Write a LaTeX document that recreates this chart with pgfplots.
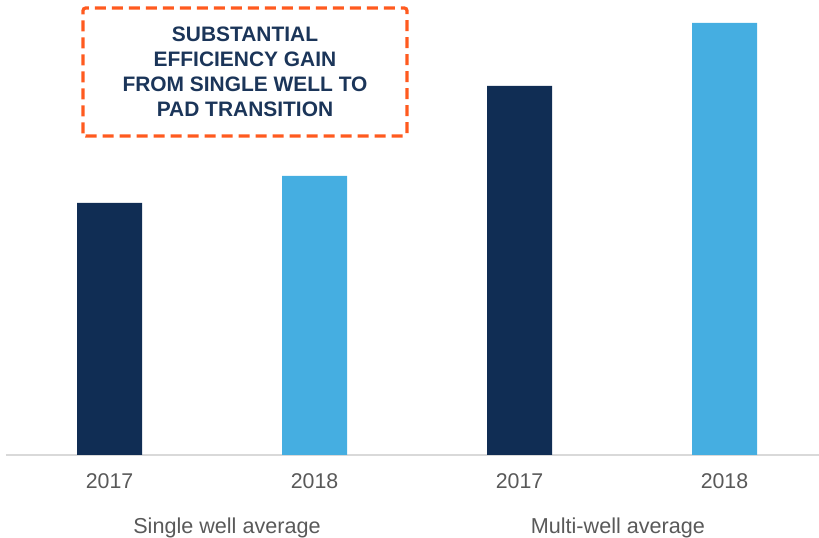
\documentclass[border=0pt]{standalone}
\usepackage{fontspec}
\setmainfont{Liberation Sans}
\usepackage{pgfplots}
\pgfplotsset{compat=1.18}
\definecolor{navy}{HTML}{102D54}
\definecolor{sky}{HTML}{45AEE1}
\definecolor{txtgray}{HTML}{595959}
\definecolor{boxorange}{HTML}{FF5A1F}
\definecolor{boxtext}{HTML}{1B3559}
\definecolor{basegray}{HTML}{D9D9D9}

\begin{document}
\begin{tikzpicture}
\useasboundingbox (-4.5pt,-62.25pt) rectangle (609.75pt,341.25pt);
\begin{axis}[
  scale only axis, width=609.75pt, height=341.25pt,
  xmin=-0.505, xmax=3.461, ymin=0, ymax=455,
  axis y line=none, axis x line*=bottom,
  x axis line style={draw=basegray, line width=1.5pt},
  xtick={0,1,2,3}, xticklabels={2017,2018,2017,2018},
  major tick length=0pt,
  xticklabel style={anchor=center, yshift=-19.3pt, font=\fontsize{16}{18}\selectfont, text=txtgray},
  ybar, bar width=48.75pt,
  clip=false,
]
\addplot[fill=navy, draw=none, bar shift=0pt] coordinates {(0,252) (2,369)};
\addplot[fill=sky, draw=none, bar shift=0pt] coordinates {(1,279) (3,432)};
\node[text=txtgray, font=\fontsize{16.2}{18}\selectfont, anchor=center, yshift=-55pt] at (axis cs:0.573,0) {Single well average};
\node[text=txtgray, font=\fontsize{16.2}{18}\selectfont, anchor=center, yshift=-55pt] at (axis cs:2.48,0) {Multi-well average};
\end{axis}
\draw[boxorange, line width=2.4pt, dash pattern=on 8.25pt off 4.5pt, rounded corners=2pt] (57.75pt,239.25pt) rectangle (300.75pt,335.25pt);
\node[align=center, text=boxtext, font=\bfseries\fontsize{15.7}{18.75}\selectfont] at (179.25pt,287.75pt) {SUBSTANTIAL\\EFFICIENCY GAIN\\FROM SINGLE WELL TO\\PAD TRANSITION};
\end{tikzpicture}
\end{document}
